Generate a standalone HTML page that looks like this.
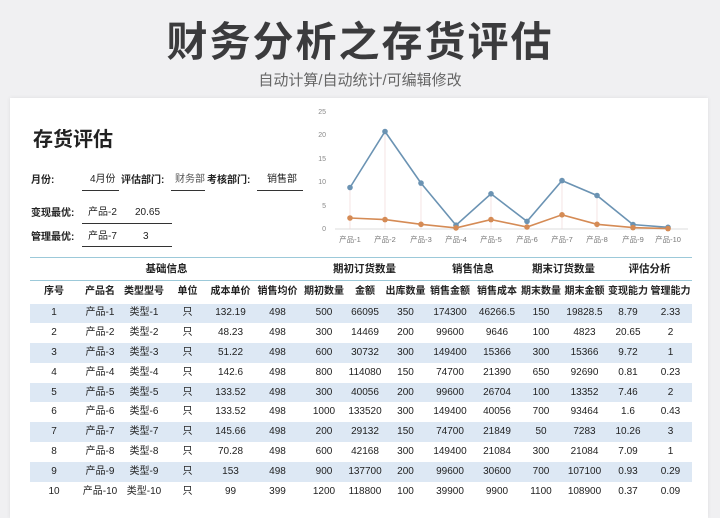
<!DOCTYPE html>
<html><head><meta charset="utf-8"><style>
*{margin:0;padding:0;box-sizing:border-box}
body{width:720px;height:509px;background:#f0f0f2;font-family:"Liberation Sans","Noto Sans CJK SC",sans-serif;position:relative;overflow:hidden;color:#222}
.t{position:absolute;left:0;width:720px;text-align:center;top:12px;font-size:41px;line-height:60px;font-weight:bold;color:#3b3b3d;letter-spacing:2px}
.s{position:absolute;left:0;width:720px;text-align:center;top:71px;font-size:15px;line-height:20px;color:#666}
.card{position:absolute;left:10px;top:98px;width:698px;height:420px;background:#fff;box-shadow:0 0 4px rgba(0,0,0,.08)}
.a{position:absolute;font-size:11px;white-space:nowrap;line-height:14px}
.b{font-weight:bold;font-size:10px}
.ln{position:absolute;height:1px;background:#333}
table{position:absolute;left:30px;top:257px;border-collapse:collapse;font-size:10px;table-layout:fixed}
td{text-align:center;height:19.8px;line-height:12px;padding:0;white-space:nowrap;overflow:hidden;vertical-align:middle}
tr.g td{font-weight:bold;height:23px;border-top:1.5px solid #9cc9d9;border-bottom:1.5px solid #9cc9d9;font-size:10.5px}
tr.h td{font-weight:bold;font-size:10px;height:23px}
tr.o td{background:#dde8f4}
</style></head><body>
<div class="t">财务分析之存货评估</div>
<div class="s">自动计算/自动统计/可编辑修改</div>
<div class="card"></div>
<div class="a" style="left:33px;top:128px;font-size:20px;line-height:24px;font-weight:bold">存货评估</div>
<div class="a b" style="left:31px;top:174px">月份:</div>
<div class="a" style="left:90px;top:173px;font-size:10px">4月份</div>
<div class="ln" style="left:82px;top:190px;width:37px"></div>
<div class="a b" style="left:121px;top:174px">评估部门:</div>
<div class="a" style="left:175px;top:173px;font-size:10px;color:#555">财务部</div>
<div class="ln" style="left:171px;top:190px;width:34px"></div>
<div class="a b" style="left:207px;top:174px">考核部门:</div>
<div class="a" style="left:267px;top:173px;font-size:10px">销售部</div>
<div class="ln" style="left:257px;top:190px;width:46px"></div>
<div class="a b" style="left:31px;top:207px">变现最优:</div>
<div class="a" style="left:88px;top:206px;font-size:10px">产品-2</div>
<div class="a" style="left:135px;top:206px;font-size:10px">20.65</div>
<div class="ln" style="left:82px;top:223px;width:90px"></div>
<div class="a b" style="left:31px;top:231px">管理最优:</div>
<div class="a" style="left:88px;top:230px;font-size:10px">产品-7</div>
<div class="a" style="left:143px;top:230px;font-size:10px">3</div>
<div class="ln" style="left:82px;top:246px;width:90px"></div>
<svg style="position:absolute;left:0;top:0" width="720" height="509" font-family="Liberation Sans,Noto Sans CJK SC,sans-serif">
<g font-size="7" fill="#888" text-anchor="end">
<text x="326" y="114">25</text><text x="326" y="137">20</text><text x="326" y="161">15</text><text x="326" y="184">10</text><text x="326" y="208">5</text><text x="326" y="231">0</text>
</g>
<line x1="335" y1="229" x2="688" y2="229" stroke="#ddd"/>
<g stroke="#f0d8d8" stroke-width="0.7">
<line x1="350" y1="229" x2="350" y2="187"/><line x1="385" y1="229" x2="385" y2="132"/><line x1="421" y1="229" x2="421" y2="183"/><line x1="456" y1="229" x2="456" y2="225"/><line x1="491" y1="229" x2="491" y2="194"/><line x1="527" y1="229" x2="527" y2="221"/><line x1="562" y1="229" x2="562" y2="181"/><line x1="597" y1="229" x2="597" y2="196"/><line x1="633" y1="229" x2="633" y2="225"/><line x1="668" y1="229" x2="668" y2="227"/>
</g>
<polyline fill="none" stroke="#6b93b3" stroke-width="1.6" points="350,187.5 385,131.5 421,183.1 456,225.2 491,193.8 527,221.4 562,180.6 597,195.5 633,224.6 668,227.3"/>
<polyline fill="none" stroke="#d58b55" stroke-width="1.6" points="350,218 385,219.6 421,224.3 456,227.9 491,219.6 527,227 562,214.8 597,224.3 633,227.6 668,228.6"/>
<g fill="#6b93b3"><circle cx="350" cy="187.5" r="2.8"/><circle cx="385" cy="131.5" r="2.8"/><circle cx="421" cy="183.1" r="2.8"/><circle cx="456" cy="225.2" r="2.8"/><circle cx="491" cy="193.8" r="2.8"/><circle cx="527" cy="221.4" r="2.8"/><circle cx="562" cy="180.6" r="2.8"/><circle cx="597" cy="195.5" r="2.8"/><circle cx="633" cy="224.6" r="2.8"/><circle cx="668" cy="227.3" r="2.8"/></g>
<g fill="#d58b55"><circle cx="350" cy="218" r="2.8"/><circle cx="385" cy="219.6" r="2.8"/><circle cx="421" cy="224.3" r="2.8"/><circle cx="456" cy="227.9" r="2.8"/><circle cx="491" cy="219.6" r="2.8"/><circle cx="527" cy="227" r="2.8"/><circle cx="562" cy="214.8" r="2.8"/><circle cx="597" cy="224.3" r="2.8"/><circle cx="633" cy="227.6" r="2.8"/><circle cx="668" cy="228.6" r="2.8"/></g>
<g font-size="7.5" fill="#777" text-anchor="middle">
<text x="350" y="242">产品-1</text><text x="385" y="242">产品-2</text><text x="421" y="242">产品-3</text><text x="456" y="242">产品-4</text><text x="491" y="242">产品-5</text><text x="527" y="242">产品-6</text><text x="562" y="242">产品-7</text><text x="597" y="242">产品-8</text><text x="633" y="242">产品-9</text><text x="668" y="242">产品-10</text>
</g>
</svg>
<table>
<colgroup><col style="width:48px"><col style="width:44px"><col style="width:44px"><col style="width:43px"><col style="width:43px"><col style="width:51px"><col style="width:42px"><col style="width:40px"><col style="width:41px"><col style="width:48px"><col style="width:46px"><col style="width:42px"><col style="width:45px"><col style="width:42px"><col style="width:43px"></colgroup>
<tr class="g"><td colspan="6">基础信息</td><td colspan="3">期初订货数量</td><td colspan="2">销售信息</td><td colspan="2">期末订货数量</td><td colspan="2">评估分析</td></tr>
<tr class="h"><td>序号</td><td>产品名</td><td>类型型号</td><td>单位</td><td>成本单价</td><td>销售均价</td><td>期初数量</td><td>金额</td><td>出库数量</td><td>销售金额</td><td>销售成本</td><td>期末数量</td><td>期末金额</td><td>变现能力</td><td>管理能力</td></tr>
<tr class="o"><td>1</td><td>产品-1</td><td>类型-1</td><td>只</td><td>132.19</td><td>498</td><td>500</td><td>66095</td><td>350</td><td>174300</td><td>46266.5</td><td>150</td><td>19828.5</td><td>8.79</td><td>2.33</td></tr>
<tr><td>2</td><td>产品-2</td><td>类型-2</td><td>只</td><td>48.23</td><td>498</td><td>300</td><td>14469</td><td>200</td><td>99600</td><td>9646</td><td>100</td><td>4823</td><td>20.65</td><td>2</td></tr>
<tr class="o"><td>3</td><td>产品-3</td><td>类型-3</td><td>只</td><td>51.22</td><td>498</td><td>600</td><td>30732</td><td>300</td><td>149400</td><td>15366</td><td>300</td><td>15366</td><td>9.72</td><td>1</td></tr>
<tr><td>4</td><td>产品-4</td><td>类型-4</td><td>只</td><td>142.6</td><td>498</td><td>800</td><td>114080</td><td>150</td><td>74700</td><td>21390</td><td>650</td><td>92690</td><td>0.81</td><td>0.23</td></tr>
<tr class="o"><td>5</td><td>产品-5</td><td>类型-5</td><td>只</td><td>133.52</td><td>498</td><td>300</td><td>40056</td><td>200</td><td>99600</td><td>26704</td><td>100</td><td>13352</td><td>7.46</td><td>2</td></tr>
<tr><td>6</td><td>产品-6</td><td>类型-6</td><td>只</td><td>133.52</td><td>498</td><td>1000</td><td>133520</td><td>300</td><td>149400</td><td>40056</td><td>700</td><td>93464</td><td>1.6</td><td>0.43</td></tr>
<tr class="o"><td>7</td><td>产品-7</td><td>类型-7</td><td>只</td><td>145.66</td><td>498</td><td>200</td><td>29132</td><td>150</td><td>74700</td><td>21849</td><td>50</td><td>7283</td><td>10.26</td><td>3</td></tr>
<tr><td>8</td><td>产品-8</td><td>类型-8</td><td>只</td><td>70.28</td><td>498</td><td>600</td><td>42168</td><td>300</td><td>149400</td><td>21084</td><td>300</td><td>21084</td><td>7.09</td><td>1</td></tr>
<tr class="o"><td>9</td><td>产品-9</td><td>类型-9</td><td>只</td><td>153</td><td>498</td><td>900</td><td>137700</td><td>200</td><td>99600</td><td>30600</td><td>700</td><td>107100</td><td>0.93</td><td>0.29</td></tr>
<tr><td>10</td><td>产品-10</td><td>类型-10</td><td>只</td><td>99</td><td>399</td><td>1200</td><td>118800</td><td>100</td><td>39900</td><td>9900</td><td>1100</td><td>108900</td><td>0.37</td><td>0.09</td></tr>
</table>
</body></html>
